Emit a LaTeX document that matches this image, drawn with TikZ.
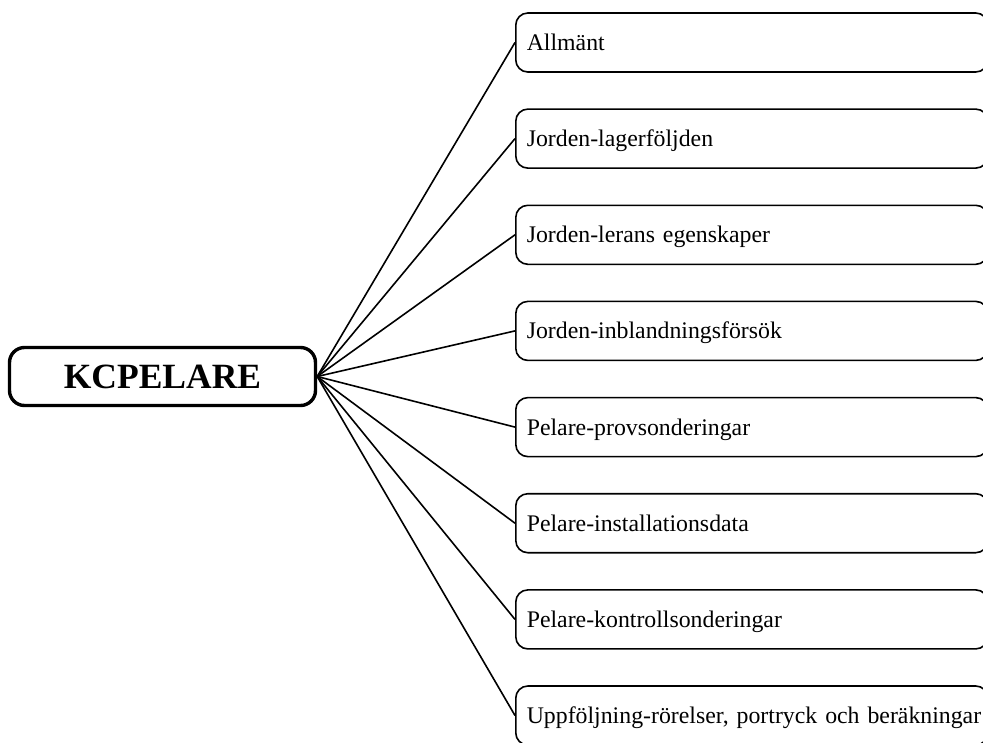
\documentclass[tikz,border=0pt]{standalone}
\usepackage{fontspec}
\setmainfont{Liberation Serif}
\begin{document}
\begin{tikzpicture}[x=1pt,y=-1pt,
  hubbox/.style={draw=black, line width=3.4pt, rounded corners=15pt,
    minimum width=306pt, minimum height=58pt, inner sep=0pt,
    font=\fontsize{35.5}{40}\selectfont\bfseries},
  itembox/.style={draw=black, line width=1.6pt, rounded corners=12pt,
    anchor=west, minimum height=59pt, inner xsep=11pt, inner ysep=0pt,
    text width=450pt, align=left, text height=16pt, text depth=0pt,
    font=\fontsize{23.8}{28}\selectfont},
  link/.style={draw=black, line width=1.6pt}]
\useasboundingbox (0,0) rectangle (983,742);
\fill[white] (0,0) rectangle (983,742);
\clip (0,0) rectangle (983,742);
\node[hubbox] (kc) at (162.5,376.5) {KCPELARE};
\node[itembox] (b1) at (515,42.5) {\mbox{Allmänt}};
\node[itembox] (b2) at (515,138.6) {\mbox{Jorden-lagerföljden}};
\node[itembox] (b3) at (515,234.8) {\mbox{Jorden-lerans egenskaper}};
\node[itembox] (b4) at (515,330.9) {\mbox{Jorden-inblandningsförsök}};
\node[itembox] (b5) at (515,427.1) {\mbox{Pelare-provsonderingar}};
\node[itembox] (b6) at (515,523.2) {\mbox{Pelare-installationsdata}};
\node[itembox] (b7) at (515,619.4) {\mbox{Pelare-kontrollsonderingar}};
\node[itembox] (b8) at (515,715.5) {\mbox{Uppföljning-rörelser, portryck och beräkningar}};
\foreach \b in {b1,b2,b3,b4,b5,b6,b7,b8}
  \draw[link] (kc.east) -- (\b.west);
\end{tikzpicture}
\end{document}
